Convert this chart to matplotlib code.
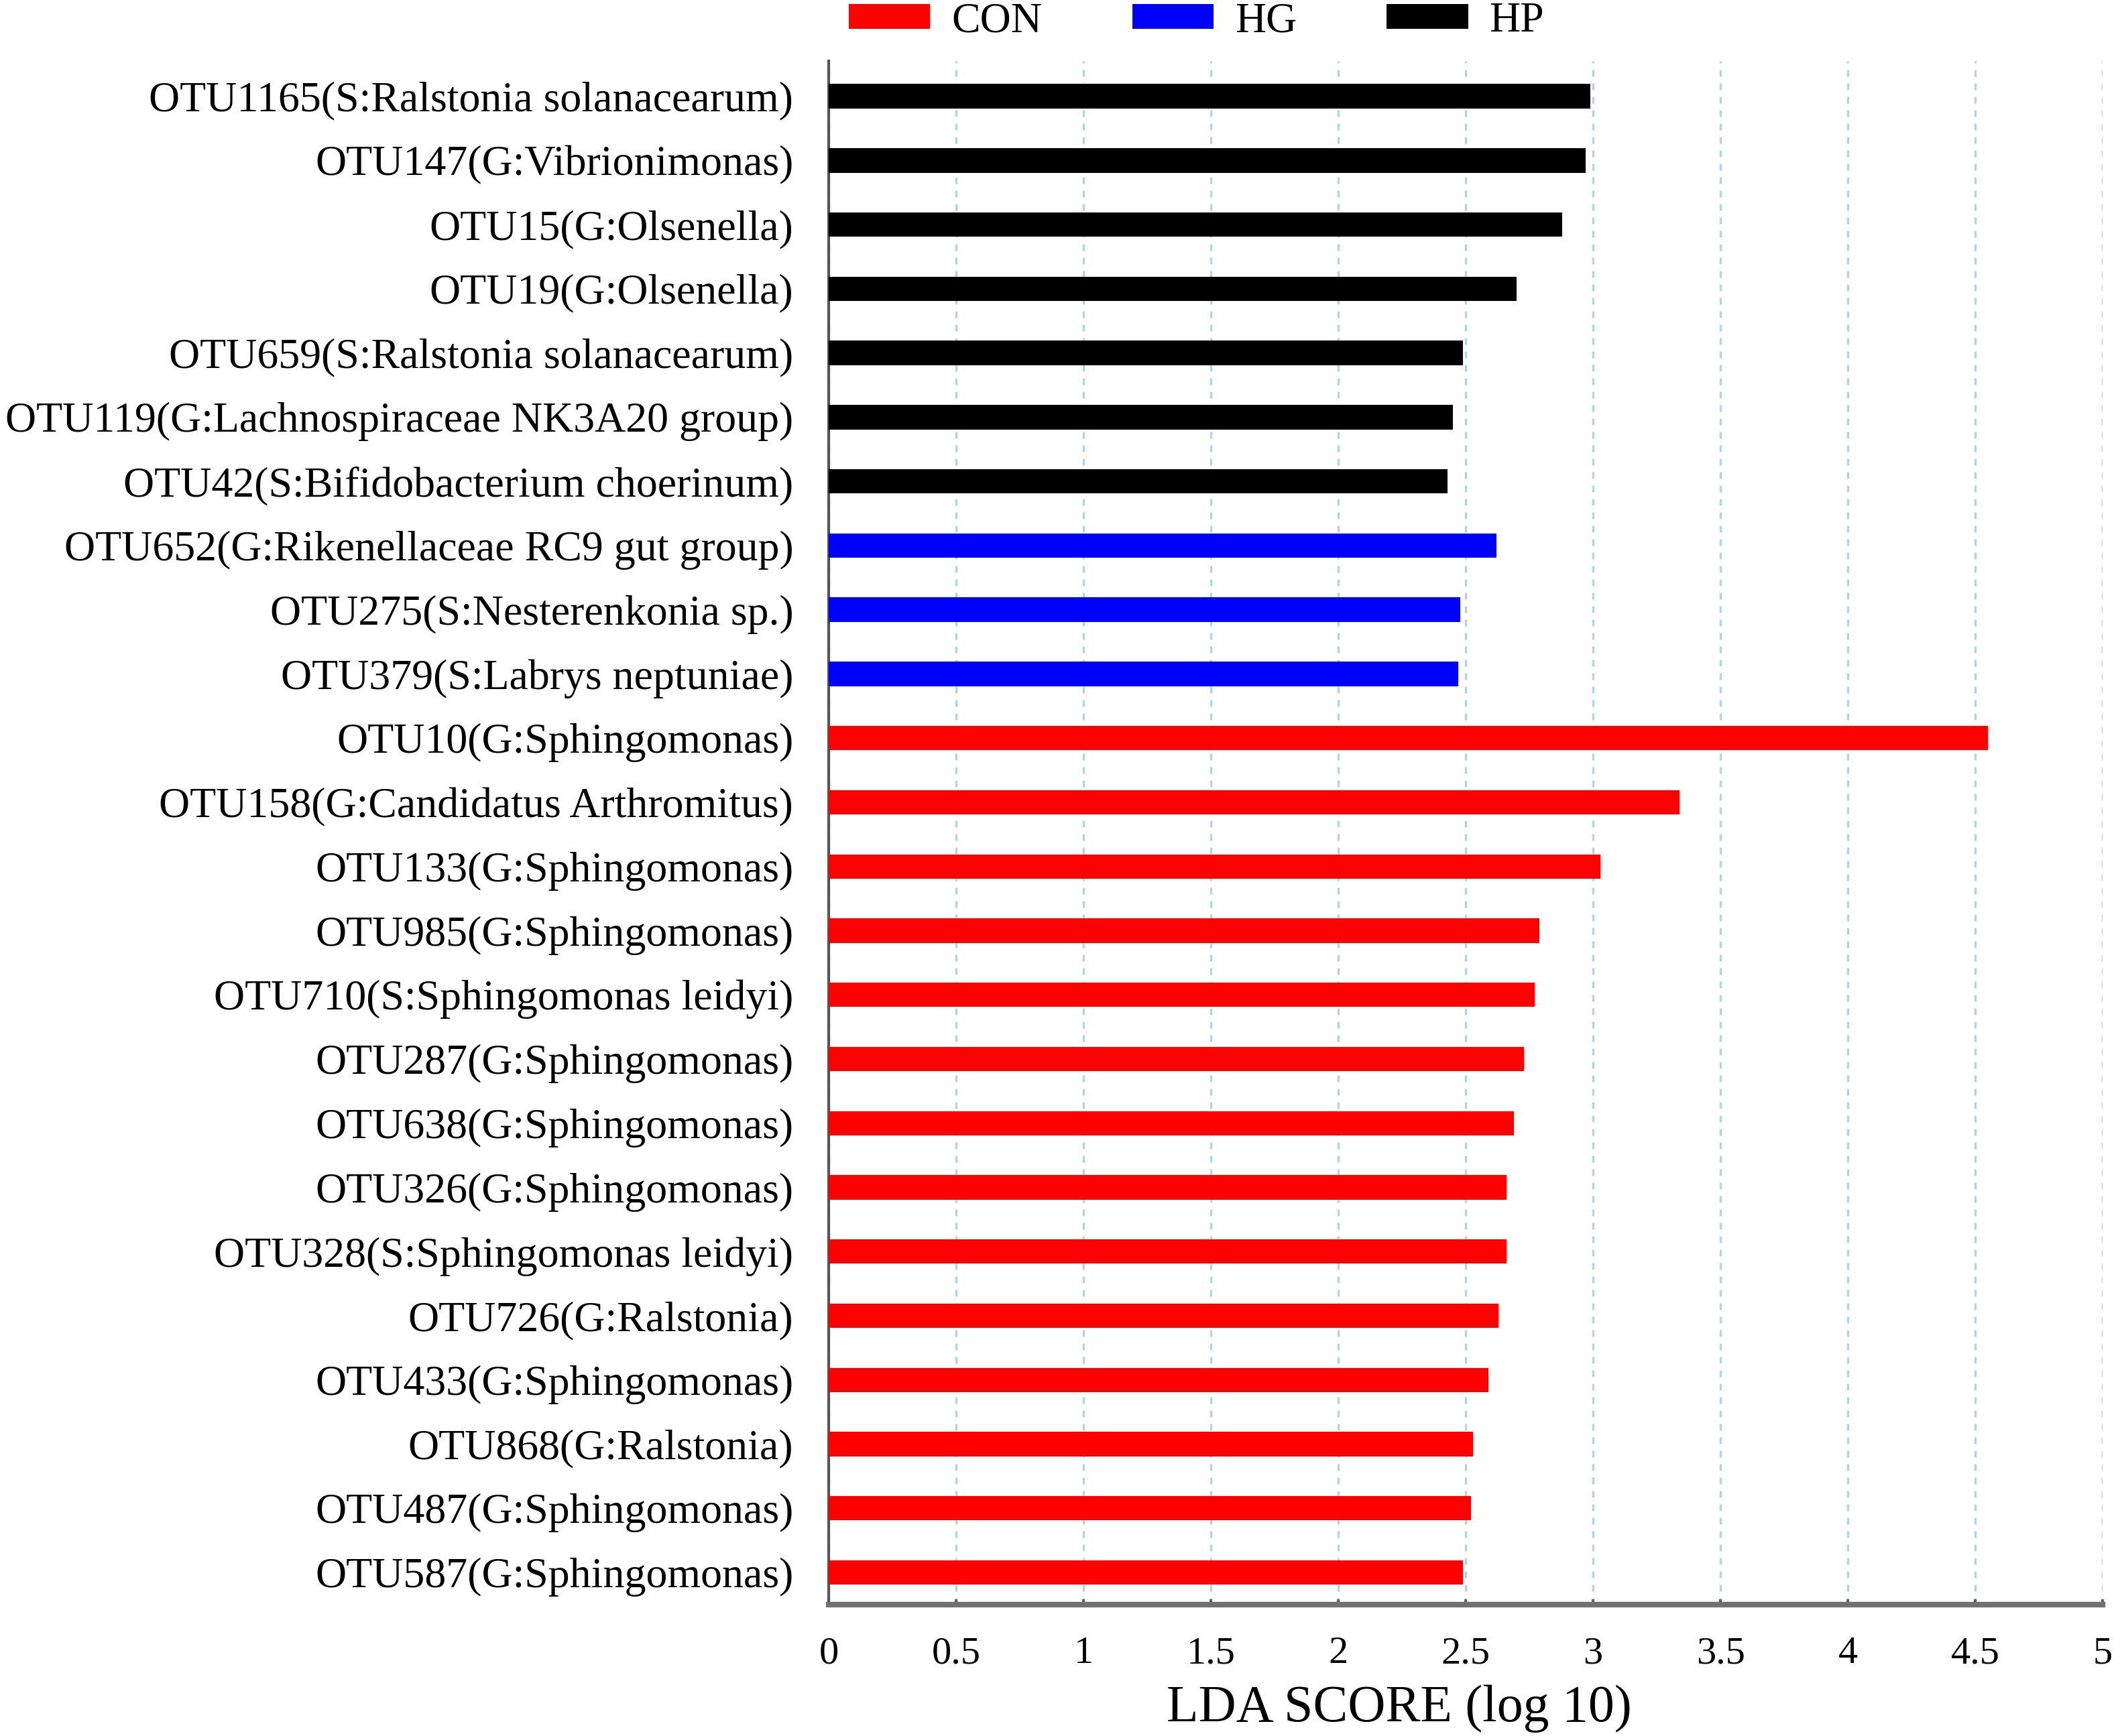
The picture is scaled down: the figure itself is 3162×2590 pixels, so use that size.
import matplotlib
matplotlib.use("Agg")
import matplotlib.pyplot as plt
import numpy as np

plt.rcParams['font.family'] = ['Liberation Serif', 'DejaVu Serif']

# taxa, top to bottom as in the figure
taxa = [
    "OTU1165(S:Ralstonia solanacearum)",
    "OTU147(G:Vibrionimonas)",
    "OTU15(G:Olsenella)",
    "OTU19(G:Olsenella)",
    "OTU659(S:Ralstonia solanacearum)",
    "OTU119(G:Lachnospiraceae NK3A20 group)",
    "OTU42(S:Bifidobacterium choerinum)",
    "OTU652(G:Rikenellaceae RC9 gut group)",
    "OTU275(S:Nesterenkonia sp.)",
    "OTU379(S:Labrys neptuniae)",
    "OTU10(G:Sphingomonas)",
    "OTU158(G:Candidatus Arthromitus)",
    "OTU133(G:Sphingomonas)",
    "OTU985(G:Sphingomonas)",
    "OTU710(S:Sphingomonas leidyi)",
    "OTU287(G:Sphingomonas)",
    "OTU638(G:Sphingomonas)",
    "OTU326(G:Sphingomonas)",
    "OTU328(S:Sphingomonas leidyi)",
    "OTU726(G:Ralstonia)",
    "OTU433(G:Sphingomonas)",
    "OTU868(G:Ralstonia)",
    "OTU487(G:Sphingomonas)",
    "OTU587(G:Sphingomonas)",
]
lda = [2.99, 2.97, 2.88, 2.70, 2.49, 2.45, 2.43,
       2.62, 2.48, 2.47,
       4.55, 3.34, 3.03, 2.79, 2.77, 2.73, 2.69, 2.66, 2.66, 2.63, 2.59, 2.53, 2.52, 2.49]
group = ["HP"] * 7 + ["HG"] * 3 + ["CON"] * 14

groups = ["CON", "HG", "HP"]
group_colors = {"CON": "#ff0000", "HG": "#0000ff", "HP": "#000000"}

fig = plt.figure(figsize=(15.81, 12.95), dpi=200)
ax = fig.add_axes([0.3909, 0.0757, 0.6009, 0.8892])

y = np.arange(len(taxa))
colors = [group_colors[g] for g in group]
ax.barh(y, lda, height=0.38, color=colors, zorder=3)

# legend handles
for g in groups:
    ax.barh([np.nan], [np.nan], color=group_colors[g], label=g)

ax.set_ylim(len(taxa) - 0.5, -0.55)
ax.set_xlim(0, 5)
ax.set_xticks(np.arange(0, 5.01, 0.5))
ax.set_xticklabels(["0", "0.5", "1", "1.5", "2", "2.5", "3", "3.5", "4", "4.5", "5"])
ax.set_yticks(y)
ax.set_yticklabels(taxa, fontsize=23)

ax.tick_params(axis='y', length=0, pad=19)
ax.tick_params(axis='x', direction='in', length=3, width=1.5, color='#606060',
               labelsize=21, pad=17)

ax.set_axisbelow(True)
ax.xaxis.grid(True, color='#a8d8e8', linewidth=1.2, linestyle=(0, (3, 3)))

for s in ['top', 'right']:
    ax.spines[s].set_visible(False)
ax.spines['left'].set_color('#555555')
ax.spines['left'].set_linewidth(1.5)
ax.spines['bottom'].set_color('#707070')
ax.spines['bottom'].set_linewidth(3)

ax.set_xlabel("LDA SCORE (log 10)", fontsize=28)
ax.xaxis.set_label_coords(0.448, -0.052)

leg = ax.legend(loc='center left', ncol=3, frameon=False,
                fontsize=23, handlelength=1.9, handleheight=0.5,
                handletextpad=0.5, columnspacing=2.1, borderpad=0, borderaxespad=0)
leg.set_bbox_to_anchor((1266 / 3162, 1 - 32 / 2590), transform=fig.transFigure)

fig.savefig("out.png", dpi=200)
